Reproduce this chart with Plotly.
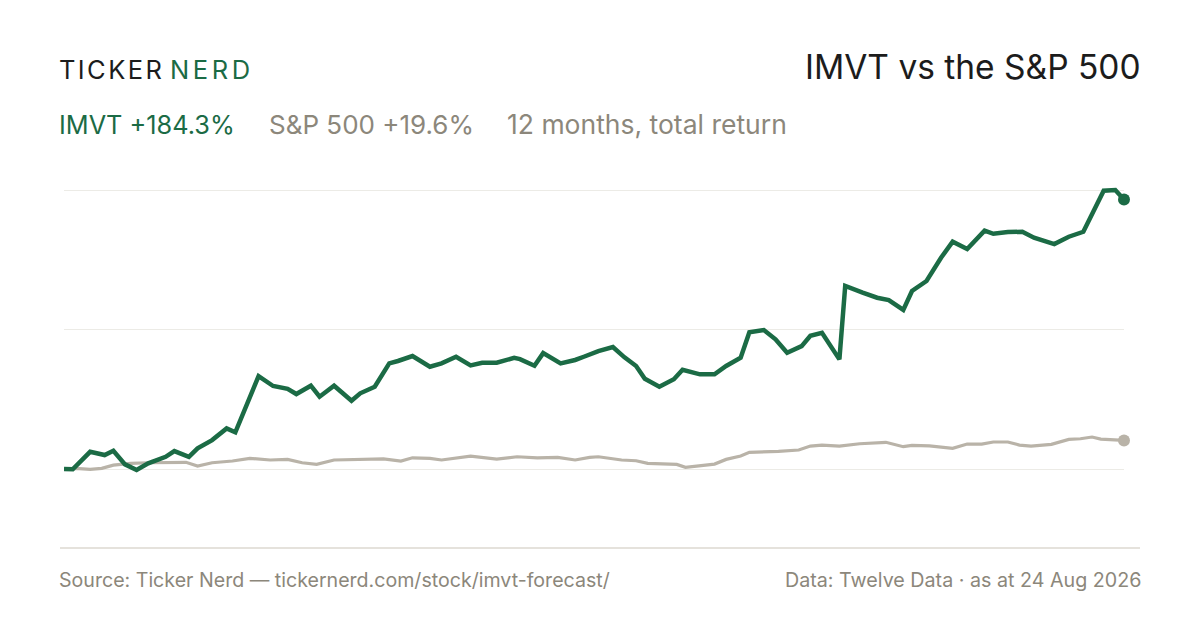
import pandas as pd
import plotly.graph_objects as go

# days since 25 Aug 2025, total return in %
imvt_days = [0, 3, 9, 14, 17, 21, 25, 29, 35, 38, 43, 46, 51, 56, 59, 63, 67, 72, 77, 80,
             85, 88, 93, 99, 102, 107, 112, 115, 120, 126, 130, 135, 140, 144, 149, 155, 157, 162, 165, 171,
             176, 179, 184, 189, 193, 197, 200, 205, 210, 213, 219, 224, 228, 233, 236, 241, 245, 249, 254, 257,
             261, 267, 269, 275, 280, 284, 289, 292, 297, 302, 306, 311, 317, 320, 325, 330, 334, 341, 346, 351,
             354, 358, 362, 365]
imvt_ret = [0.0, -0.2, 11.8, 9.6, 12.5, 3.2, -0.7, 3.9, 8.4, 12.3, 8.4, 14.2, 19.8, 27.8, 25.1, 44.9, 63.6, 56.8, 54.9, 51.3,
            57.0, 49.5, 57.0, 46.7, 51.8, 56.3, 72.3, 73.9, 77.3, 70.0, 72.3, 76.8, 70.9, 72.7, 72.7, 76.1, 75.2, 70.7, 79.3, 72.3,
            74.6, 76.8, 80.7, 83.4, 76.4, 70.5, 61.8, 56.3, 61.4, 67.9, 64.8, 64.8, 70.5, 76.1, 93.5, 95.1, 88.7, 79.5, 84.1, 91.2,
            93.2, 75.0, 125.2, 120.6, 117.2, 115.6, 108.8, 121.8, 128.6, 144.5, 155.5, 150.5, 163.0, 160.9, 162.1, 162.3, 158.2, 153.9, 158.9, 162.3,
            174.9, 190.4, 190.8, 184.3]

spx_days = [0, 4, 9, 13, 17, 23, 29, 37, 42, 46, 51, 58, 64, 71, 77, 82, 87, 93, 98, 105,
            110, 116, 120, 126, 130, 140, 149, 156, 163, 170, 176, 181, 184, 192, 197, 201, 209, 211, 214, 219,
            224, 228, 233, 236, 241, 246, 253, 257, 261, 267, 274, 281, 283, 289, 292, 298, 306, 311, 316, 320,
            325, 329, 333, 340, 346, 350, 354, 357, 361, 365]
spx_ret = [0.0, 0.5, -0.2, 0.5, 2.7, 3.9, 4.3, 4.6, 4.6, 2.1, 4.3, 5.5, 7.3, 6.2, 6.6, 4.3, 3.2, 6.2, 6.4, 7.0,
           7.0, 5.5, 7.7, 7.3, 6.2, 8.9, 6.8, 8.4, 7.7, 8.0, 6.2, 8.0, 8.4, 6.2, 5.7, 3.9, 3.6, 3.2, 1.2, 2.1,
           3.4, 6.6, 8.9, 11.4, 11.6, 12.1, 13.0, 15.7, 16.4, 15.7, 17.3, 18.5, 18.3, 15.3, 16.2, 15.9, 14.2, 17.1, 17.1, 18.5,
           18.5, 16.4, 15.7, 16.9, 20.3, 20.7, 21.9, 20.5, 19.8, 19.6]

start = pd.Timestamp("2025-08-25")
imvt_x = [start + pd.Timedelta(days=d) for d in imvt_days]
spx_x = [start + pd.Timedelta(days=d) for d in spx_days]

GREEN = "#1b6b45"
GREY = "#b9b3a8"
MUTED = "#8c877b"
FONT = "Inter"

fig = go.Figure()
fig.add_trace(go.Scatter(x=spx_x, y=spx_ret, mode="lines", line=dict(color=GREY, width=3.2),
                         cliponaxis=False, hoverinfo="skip"))
fig.add_trace(go.Scatter(x=imvt_x, y=imvt_ret, mode="lines", line=dict(color=GREEN, width=4.5),
                         cliponaxis=False, hoverinfo="skip"))
# end dots
fig.add_trace(go.Scatter(x=[spx_x[-1]], y=[spx_ret[-1]], mode="markers",
                         marker=dict(color=GREY, size=12), cliponaxis=False))
fig.add_trace(go.Scatter(x=[imvt_x[-1]], y=[imvt_ret[-1]], mode="markers",
                         marker=dict(color=GREEN, size=12), cliponaxis=False))

top = max(imvt_ret)
fig.update_layout(
    width=1200, height=630,
    margin=dict(l=64, r=76, t=180, b=82),
    paper_bgcolor="white", plot_bgcolor="white",
    showlegend=False,
    font=dict(family=FONT, color=MUTED),
    xaxis=dict(range=[imvt_x[0], imvt_x[-1]], showgrid=False, zeroline=False,
               showticklabels=False, showline=False),
    yaxis=dict(range=[-54, 197.7], tickvals=[0, top / 2, top], showticklabels=False,
               gridcolor="#ecebe6", gridwidth=1, zeroline=False, showline=False),
)

def px(x):
    return (x - 64) / 1060

def py(y):
    return (548 - y) / 368

ann = [
    dict(text="<span style='letter-spacing:2.4px'>TICKER</span>",
         x=px(57), y=py(70), xanchor="left", font=dict(size=25.5, color="#1c1c1c")),
    dict(text="<span style='letter-spacing:3.6px'>NERD</span>",
         x=px(168), y=py(70), xanchor="left", font=dict(size=25.5, color=GREEN)),
    dict(text="IMVT vs the S&P 500", x=px(1143), y=py(67), xanchor="right",
         font=dict(size=33.5, color="#1c1c1c")),
    dict(text="IMVT +184.3%", x=px(57), y=py(124), xanchor="left",
         font=dict(size=25.3, color=GREEN)),
    dict(text="S&P 500 +19.6%", x=px(267), y=py(124), xanchor="left",
         font=dict(size=26, color=MUTED)),
    dict(text="12 months, total return", x=px(505), y=py(124), xanchor="left",
         font=dict(size=26.5, color=MUTED)),
    dict(text="Source: Ticker Nerd — tickernerd.com/stock/imvt-forecast/", x=px(57), y=py(580),
         xanchor="left", font=dict(size=19.6, color=MUTED)),
    dict(text="Data: Twelve Data · as at 24 Aug 2026", x=px(1143), y=py(580),
         xanchor="right", font=dict(size=19.7, color=MUTED)),
]
for a in ann:
    fig.add_annotation(xref="paper", yref="paper", yanchor="middle", showarrow=False, **a)

fig.add_shape(type="line", xref="paper", yref="paper", x0=px(60), x1=px(1140), y0=0, y1=0,
              line=dict(color="#dcd9d0", width=1.5))

fig.write_html("out.html", config={"displayModeBar": False},
               post_script="document.body.style.margin='0';")
